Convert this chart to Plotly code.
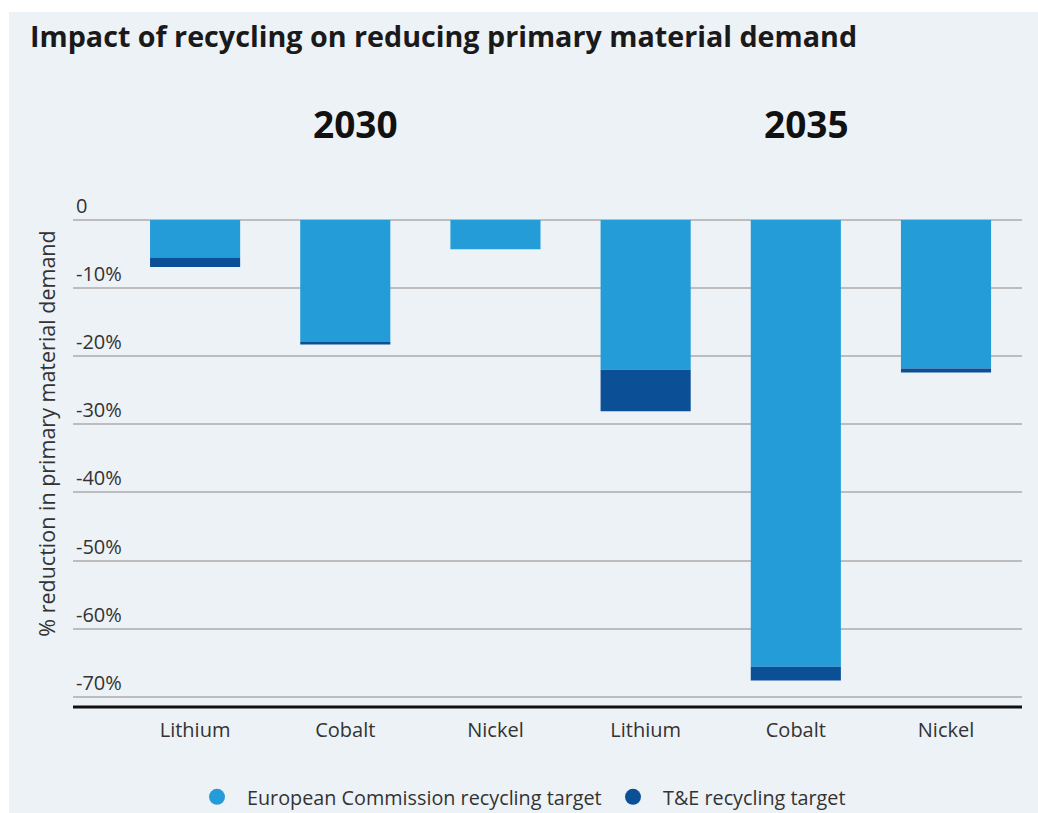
import plotly.graph_objects as go

materials = ["Lithium", "Cobalt", "Nickel", "Lithium", "Cobalt", "Nickel"]
years = ["2030", "2035"]
ec_target = [-5.5, -17.9, -4.3, -22.0, -65.6, -21.8]
te_extra = [-1.4, -0.4, 0.0, -6.1, -2.0, -0.6]
y_ticks = [0, -10, -20, -30, -40, -50, -60, -70]
y_ticktext = ["0", "-10%", "-20%", "-30%", "-40%", "-50%", "-60%", "-70%"]

x_pos = list(range(len(materials)))
FONT = "Open Sans"
LIGHT = "#249CD8"
DARK = "#0B4F96"
BG = "#EDF2F6"
TXT = "#333333"

fig = go.Figure()
fig.add_trace(go.Bar(x=x_pos, y=ec_target, name="European Commission recycling target",
                     marker=dict(color=LIGHT, line=dict(width=0)), width=0.6, showlegend=False))
fig.add_trace(go.Bar(x=x_pos, y=te_extra, name="T&E recycling target",
                     marker=dict(color=DARK, line=dict(width=0)), width=0.6, showlegend=False))

# legend entries with circle markers
fig.add_trace(go.Scatter(x=[None], y=[None], mode="markers", name="European Commission recycling target",
                         marker=dict(color=LIGHT, size=21, symbol="circle")))
fig.add_trace(go.Scatter(x=[None], y=[None], mode="markers", name="T&E recycling target",
                         marker=dict(color=DARK, size=21, symbol="circle")))

W, H = 1038, 813
L, R, T, B = 73, 16, 160, 106
pw, ph = W - L - R, H - T - B

# thin white border at top and left of the light panel
fig.add_shape(type="rect", xref="paper", yref="paper", layer="below",
              x0=-(L + 5) / pw, x1=(W - L + 5) / pw, y0=(H - B - 12) / ph, y1=(H - B + 5) / ph,
              fillcolor="white", line=dict(width=0))
fig.add_shape(type="rect", xref="paper", yref="paper", layer="below",
              x0=-(L + 5) / pw, x1=(9 - L) / pw, y0=-(B + 5) / ph, y1=(H - B + 5) / ph,
              fillcolor="white", line=dict(width=0))

for i, yr in enumerate(years):
    fig.add_annotation(x=1 + 3 * i + 0.07, y=(H - B - 123) / ph, xref="x", yref="paper",
                       text="<b>%s</b>" % yr, showarrow=False, yanchor="middle",
                       font=dict(family=FONT, size=37, color="#111111"))

fig.update_layout(
    template="none",
    width=W, height=H,
    margin=dict(l=L, r=R, t=T, b=B, autoexpand=False),
    paper_bgcolor=BG,
    plot_bgcolor="rgba(0,0,0,0)",
    barmode="relative",
    title=dict(text="<b>Impact of recycling on reducing primary material demand</b>",
               x=30 / W, xanchor="left", xref="container", y=1 - 37 / H, yanchor="middle",
               yref="container",
               font=dict(family=FONT, size=28.7, color="#1a1a1a")),
    font=dict(family=FONT, size=20, color=TXT),
    legend=dict(orientation="h", x=187 / W, xanchor="left", xref="container",
                y=1 - 797 / H, yanchor="middle", yref="container",
                font=dict(family=FONT, size=19.8, color=TXT), bgcolor="rgba(0,0,0,0)",
                itemsizing="trace", itemwidth=50, entrywidth=351, entrywidthmode="pixels"),
    xaxis=dict(range=[-0.813, 5.506], tickmode="array", tickvals=x_pos, ticktext=materials,
               showgrid=False, zeroline=False, showline=False, automargin=False,
               ticks="outside", ticklen=5, tickcolor="rgba(0,0,0,0)",
               tickfont=dict(family=FONT, size=20, color=TXT)),
    yaxis=dict(range=[-71.5, 8.8], tickmode="array", tickvals=y_ticks, ticktext=y_ticktext,
               ticklabelposition="inside top", showgrid=True, gridcolor="#BDBDBD", gridwidth=1.5,
               zeroline=False, showline=False, ticks="", automargin=False,
               tickfont=dict(family=FONT, size=20, color=TXT),
               title=dict(text="% reduction in primary material demand", standoff=14,
                          font=dict(family=FONT, size=21.5, color=TXT))),
)

# black baseline at bottom of plot
fig.add_shape(type="line", xref="paper", yref="paper", x0=0, x1=1, y0=0, y1=0,
              line=dict(color="#111111", width=3))

fig.write_html("out.html", config={"displayModeBar": False},
               post_script="document.body.style.margin='0';document.body.style.overflow='hidden';")
